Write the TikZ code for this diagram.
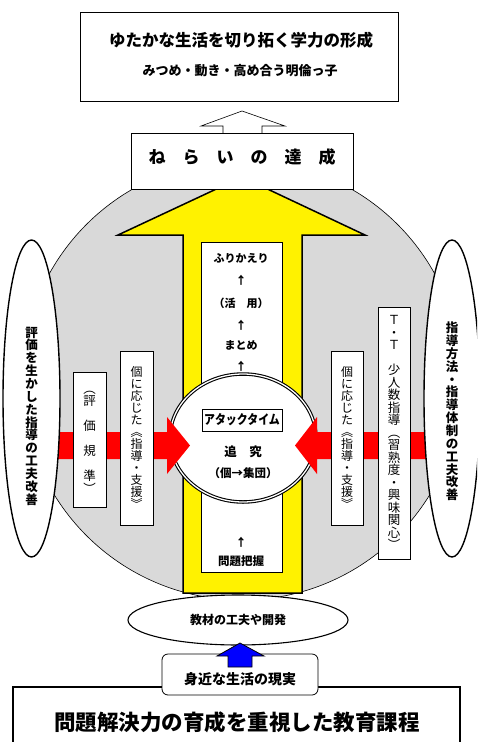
\documentclass[tikz,border=0pt]{standalone}
\usepackage{fontspec}
\usepackage{graphicx}
\newfontfamily\jp{Noto Sans CJK JP}
\usetikzlibrary{shapes.geometric}
\begin{document}
\begin{tikzpicture}[x=1pt,y=-1pt,
  plainbox/.style={draw, fill=white, line width=0.8pt, inner sep=0pt},
  btxt/.style={inner sep=0pt, font=\jp\bfseries\fontsize{#1}{#1}\selectfont},
  vtxt/.style={inner sep=0pt, align=center, font=\jp\fontsize{#1}{#1}\selectfont},
  vbtxt/.style={inner sep=0pt, align=center, font=\jp\bfseries\fontsize{12.5}{12.85}\selectfont},
  arrowshape/.style={line join=miter}
]
\useasboundingbox (0,0) rectangle (477,742);
\clip (0,0) rectangle (477,742);
\fill[white] (0,0) rectangle (477,742);

% big grey circle
\draw[line width=0.6pt, fill=black!15] (242,380) circle (220pt);

% yellow arrow
\draw[arrowshape, line width=1.5pt, fill=yellow]
  (183,593) -- (183,235) -- (118,235) -- (242,177) -- (365,235) -- (302,235) -- (302,593) -- cycle;

% white column
\node[plainbox, line width=1pt, minimum width=81pt, minimum height=330pt] (col) at (241.5,407) {};
\node[btxt=11] (t1) at (241,258) {ふりかえり};
\node[btxt=11] (a1) at (241,280) {↑};
\node[btxt=11] (t2) at (241,303) {（活　用）};
\node[btxt=11] (a2) at (241,325) {↑};
\node[btxt=11] (t3) at (241,345) {まとめ};
\node[btxt=11] (a3) at (241,366) {↑};
\node[btxt=11] (a4) at (241,542) {↑};
\node[btxt=11.5] (t4) at (241,561) {問題把握};

% central ellipse
\node[ellipse, draw, fill=white, line width=1.1pt, double=white, double distance=1.3pt,
  minimum width=146pt, minimum height=128pt, inner sep=0pt] (core) at (243,438) {};
\node[draw, line width=0.8pt, fill=white, minimum width=80pt, minimum height=22pt, inner sep=0pt,
  font=\jp\bfseries\fontsize{13}{13}\selectfont] (attack) at (242,420) {\scalebox{0.84}[1]{アタックタイム}};
\node[btxt=12.5] (tsui) at (243,452) {追　究};
\node[btxt=11.5] (ko) at (243,473) {（個→集団）};

% red arrows
\fill[red] (30,432) -- (167,432) -- (167,417) -- (190,445.5) -- (167,474) -- (167,459) -- (30,459) -- cycle;
\fill[red] (445,432) -- (317,432) -- (317,417) -- (295,445.5) -- (317,474) -- (317,459) -- (445,459) -- cycle;

% small boxes left
\node[plainbox, minimum width=33pt, minimum height=135pt] (hyoka) at (89.5,439.5) {};
\node[vtxt=12.5] (hyokat) at (89.5,442) {︵\\評\\　\\価\\　\\規\\　\\準\\︶};
\node[plainbox, minimum width=33pt, minimum height=174pt] (kol) at (136.5,438) {};
\node[vtxt=12] (kolt) at (136.5,437) {個\\に\\応\\じ\\た\\︽\\指\\導\\・\\支\\援\\︾};
% small boxes right
\node[plainbox, minimum width=32pt, minimum height=174pt] (kor) at (347,438) {};
\node[vtxt=12] (kort) at (347,437) {個\\に\\応\\じ\\た\\︽\\指\\導\\・\\支\\援\\︾};
\node[plainbox, minimum width=32pt, minimum height=252pt] (tt) at (394,433) {};
\node[vtxt=12.5] (ttt) at (394,432.5) {Ｔ\\・\\Ｔ\\　\\少\\人\\数\\指\\導\\︵\\習\\熟\\度\\・\\興\\味\\関\\心\\︶};

% tall ellipses
\node[ellipse, draw, fill=white, line width=1.4pt, minimum width=57pt, minimum height=317pt, inner sep=0pt] (leftell) at (31.5,398.5) {};
\node[vbtxt] (leftt) at (31.5,416) {評\\価\\を\\生\\か\\し\\た\\指\\導\\の\\工\\夫\\改\\善};
\node[ellipse, draw, fill=white, line width=1.4pt, minimum width=56pt, minimum height=317pt, inner sep=0pt] (rightell) at (452,398.5) {};
\node[vbtxt] (rightt) at (452,411.5) {指\\導\\方\\法\\・\\指\\導\\体\\制\\の\\工\\夫\\改\\善};

% hollow arrow to the top
\draw[arrowshape, line width=0.6pt, fill=white]
  (223,136) -- (223,126) -- (201,126) -- (242,111) -- (285,126) -- (262,126) -- (262,136);

% aim box
\node[plainbox, minimum width=222pt, minimum height=56pt] (aim) at (242,161) {};
\node[btxt=17] (aimt) at (242,157) {ね　ら　い　の　達　成};

% top box
\node[plainbox, minimum width=318pt, minimum height=89pt] (top) at (239,56.5) {};
\node[btxt=16.5] (title1) at (241,40) {ゆたかな生活を切り拓く学力の形成};
\node[btxt=13] (title2) at (240,71) {みつめ・動き・高め合う明倫っ子};

% bottom ellipse
\node[ellipse, draw, fill=white, line width=1.1pt, minimum width=220pt, minimum height=50pt, inner sep=0pt] (kyozai) at (238,620) {};
\node[btxt=12] (kyozait) at (238,620) {教材の工夫や開発};

% bottom box
\draw[line width=2.5pt, fill=white] (13,687) rectangle (460,770);
\node[btxt=21.5] (curr) at (237,722) {問題解決力の育成を重視した教育課程};

% rounded box
\node[draw, fill=white, line width=0.8pt, rounded corners=6pt, minimum width=156pt, minimum height=41pt, inner sep=0pt] (life) at (240,674.5) {};
\node[btxt=14] (lifet) at (240,679) {身近な生活の現実};

% blue arrow
\draw[arrowshape, line width=0.8pt, fill=blue]
  (228,667) -- (228,656) -- (217,656) -- (240,643) -- (264,656) -- (252,656) -- (252,667) -- cycle;
\end{tikzpicture}
\end{document}
